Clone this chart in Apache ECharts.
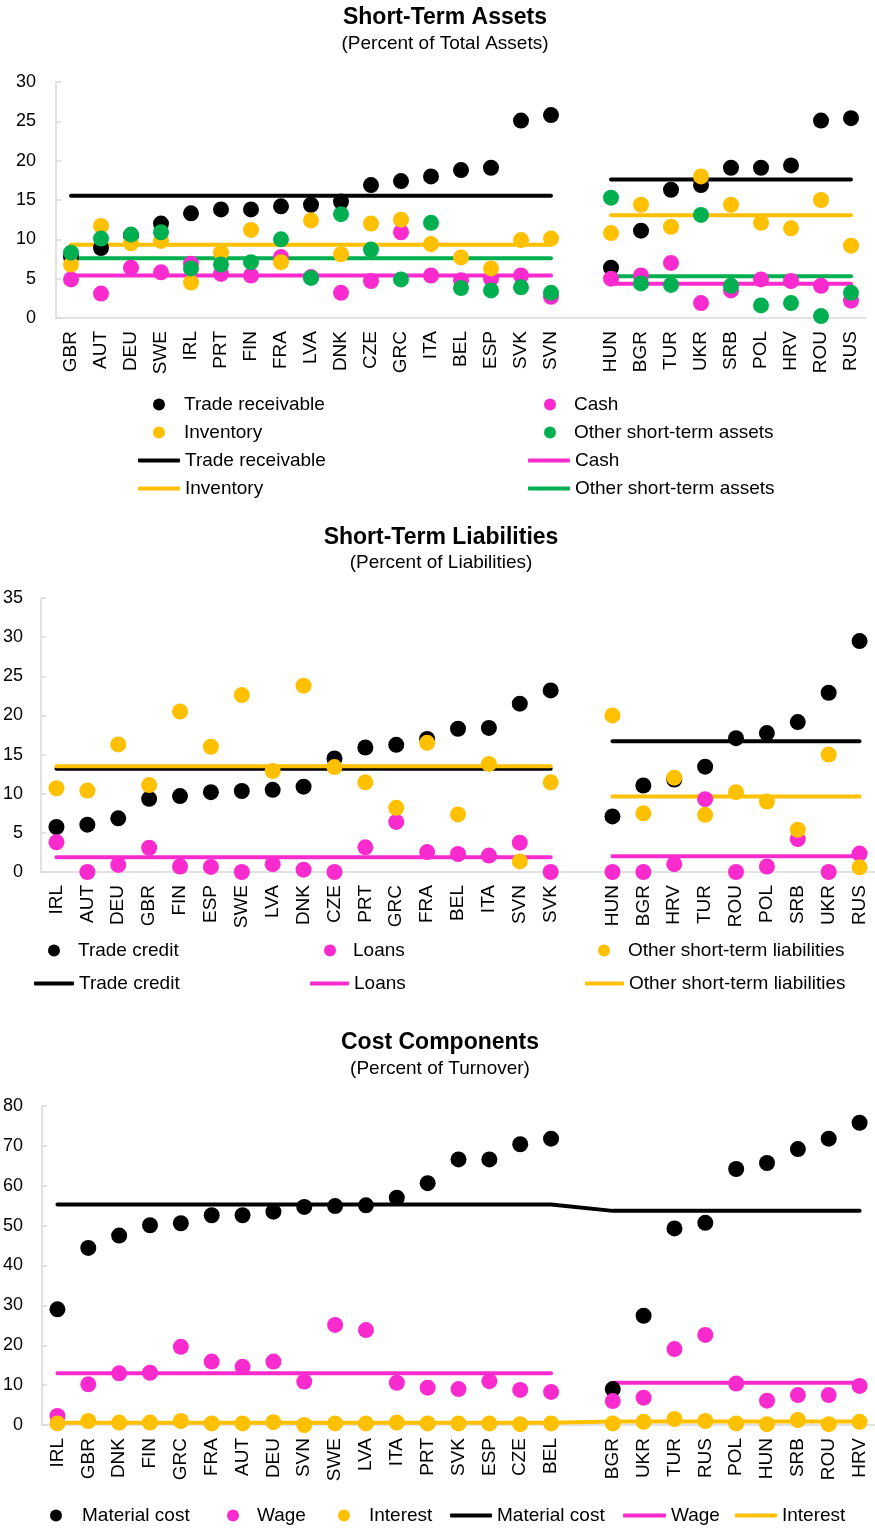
<!DOCTYPE html>
<html>
<head>
<meta charset="utf-8">
<script src="https://cdn.jsdelivr.net/npm/echarts@6/dist/echarts.min.js"></script>
<style>html,body{margin:0;padding:0;background:#fff}#c{width:875px;height:1529px}</style>
</head>
<body>
<div id="c"></div>
<script>
// ---------- Panel 1: Short-Term Assets ----------
const p1CatsA = ['GBR','AUT','DEU','SWE','IRL','PRT','FIN','FRA','LVA','DNK','CZE','GRC','ITA','BEL','ESP','SVK','SVN'];
const p1CatsB = ['HUN','BGR','TUR','UKR','SRB','POL','HRV','ROU','RUS'];
const p1TradeA = [7.8,8.9,10.5,12.0,13.3,13.8,13.8,14.2,14.4,14.8,16.9,17.4,18.0,18.8,19.1,25.1,25.8];
const p1TradeB = [6.4,11.1,16.3,16.9,19.1,19.1,19.4,25.1,25.4];
const p1CashA = [4.9,3.1,6.4,5.8,6.9,5.6,5.4,7.75,5.2,3.2,4.7,10.9,5.4,4.8,5.0,5.4,2.7];
const p1CashB = [5.0,5.4,7.0,1.9,3.5,4.9,4.7,4.1,2.2];
const p1InvA = [6.8,11.7,9.5,9.8,4.5,8.3,11.2,7.1,12.4,8.1,12.0,12.5,9.4,7.7,6.3,9.9,10.1];
const p1InvB = [10.8,14.4,11.6,18.0,14.4,12.1,11.4,15.0,9.2];
const p1OtherA = [8.3,10.1,10.6,10.9,6.3,6.8,7.1,10.0,5.1,13.2,8.7,4.9,12.1,3.8,3.5,3.9,3.2];
const p1OtherB = [15.3,4.4,4.2,13.1,4.1,1.6,1.9,0.25,3.2];
// group averages [first group, second group]
const p1AvgTrade = [15.55,17.6];
const p1AvgCash = [5.4,4.35];
const p1AvgInv = [9.3,13.05];
const p1AvgOther = [7.6,5.3];
const p1Ticks = [0,5,10,15,20,25,30];

// ---------- Panel 2: Short-Term Liabilities ----------
const p2CatsA = ['IRL','AUT','DEU','GBR','FIN','ESP','SWE','LVA','DNK','CZE','PRT','GRC','FRA','BEL','ITA','SVN','SVK'];
const p2CatsB = ['HUN','BGR','HRV','TUR','ROU','POL','SRB','UKR','RUS'];
const p2TradeA = [5.75,6.05,6.85,9.35,9.7,10.2,10.35,10.5,10.9,14.5,15.9,16.25,17.0,18.3,18.4,21.5,23.2];
const p2TradeB = [7.1,11.05,11.8,13.45,17.1,17.75,19.15,22.9,29.5];
const p2LoansA = [3.8,0,0.9,3.1,0.7,0.65,0,1.0,0.3,0,3.15,6.4,2.55,2.3,2.1,3.75,0];
const p2LoansB = [0,0,1.0,9.3,0,0.7,4.2,0,2.35];
const p2OtherA = [10.7,10.4,16.3,11.1,20.5,16.0,22.6,12.9,23.8,13.4,11.45,8.2,16.5,7.35,13.8,1.35,11.45];
const p2OtherB = [20.0,7.5,12.05,7.3,10.2,9.0,5.4,15.0,0.6];
const p2AvgTrade = [13.2,16.7];
const p2AvgLoans = [1.87,2.0];
const p2AvgOther = [13.5,9.66];
const p2Ticks = [0,5,10,15,20,25,30,35];

// ---------- Panel 3: Cost Components ----------
const p3CatsA = ['IRL','GBR','DNK','FIN','GRC','FRA','AUT','DEU','SVN','SWE','LVA','ITA','PRT','SVK','ESP','CZE','BEL'];
const p3CatsB = ['BGR','UKR','TUR','RUS','POL','HUN','SRB','ROU','HRV'];
const p3MatA = [29.0,44.4,47.5,50.1,50.6,52.6,52.6,53.5,54.7,54.9,55.1,57.0,60.65,66.6,66.6,70.4,71.8];
const p3MatB = [9.0,27.4,49.3,50.7,64.2,65.7,69.2,71.8,75.8];
const p3WageA = [2.25,10.2,12.95,13.1,19.6,15.9,14.6,15.9,10.9,25.1,23.8,10.6,9.35,9.0,11.0,8.8,8.3];
const p3WageB = [6.0,6.85,19.05,22.6,10.4,6.1,7.5,7.5,9.8];
const p3IntA = [0.4,1.0,0.6,0.6,1.0,0.4,0.4,0.7,0.0,0.4,0.4,0.6,0.4,0.4,0.4,0.2,0.4];
const p3IntB = [0.4,0.8,1.5,1.0,0.4,0.2,1.25,0.2,0.8];
const p3AvgMat = [55.3,53.7];
const p3AvgWage = [12.95,10.6];
const p3AvgInt = [0.55,0.9];
const p3Ticks = [0,10,20,30,40,50,60,70,80];

// ---------- styling ----------
const FONT = 'Liberation Sans, Arial, sans-serif';
const BLACK = '#000000', PINK = '#FA2BCE', YELLOW = '#FFC000', GREEN = '#00B050';
const AXIS_GRAY = '#d9d9d9';

function cats(a, b) { return a.concat([''], b); }
function scatter(name, color, a, b, gi) {
  return { type: 'scatter', name: name, xAxisIndex: gi, yAxisIndex: gi,
    data: a.concat(['-'], b), symbol: 'circle', symbolSize: 16,
    itemStyle: { color: color, opacity: 1 }, z: 3, silent: true };
}
function avgLine(name, color, avg, nA, nB, gi, connect) {
  const data = [];
  for (let i = 0; i < nA; i++) data.push(avg[0]);
  data.push('-');
  for (let i = 0; i < nB; i++) data.push(avg[1]);
  return { type: 'line', name: name + ' ', xAxisIndex: gi, yAxisIndex: gi, data: data,
    symbol: 'none', showSymbol: false, connectNulls: !!connect,
    lineStyle: { color: color, width: 4, cap: 'round', join: 'round' },
    itemStyle: { color: color }, z: 2, silent: true };
}
function xAxis(gi, data) {
  return { type: 'category', gridIndex: gi, data: data, boundaryGap: true,
    axisTick: { show: false },
    axisLine: { show: true, lineStyle: { color: AXIS_GRAY, width: 1.5 } },
    axisLabel: { rotate: 90, interval: 0, margin: 13, fontSize: 19, fontFamily: FONT, color: '#000' },
    splitLine: { show: false } };
}
function yAxis(gi, ticks, margin) {
  return { type: 'value', gridIndex: gi, min: ticks[0], max: ticks[ticks.length - 1],
    interval: ticks[1] - ticks[0],
    axisLine: { show: true, lineStyle: { color: AXIS_GRAY, width: 1.5 } },
    axisTick: { show: true, inside: true, length: 5, lineStyle: { color: AXIS_GRAY, width: 1.5 } },
    axisLabel: { margin: margin, fontSize: 18, fontFamily: FONT, color: '#000' },
    splitLine: { show: false } };
}
// dot legend entry: dotX = centre of the dot, textX = left of the label
function legendDot(name, dotX, textX, centerY) {
  return { data: [{ name: name, icon: 'circle' }],
    left: dotX - 6, top: centerY - 10, padding: 0, itemWidth: 12, itemHeight: 12,
    selectedMode: false, formatter: function (n) { return n.trim(); },
    textStyle: { fontSize: 19, fontFamily: FONT, color: '#000', padding: [0, 0, 0, textX - (dotX + 6) - 5] } };
}
// line legend entry: lineX = left of the line sample, w = its length
function legendLine(name, lineX, w, centerY) {
  return { data: [{ name: name, icon: 'roundRect' }],
    left: lineX, top: centerY - 10, padding: 0, itemWidth: w, itemHeight: 4,
    selectedMode: false, formatter: function (n) { return n.trim(); },
    textStyle: { fontSize: 19, fontFamily: FONT, color: '#000' } };
}
function titleText(text, x, y, size, bold) {
  return { type: 'text', x: x, y: y, silent: true,
    style: { text: text, font: (bold ? 'bold ' : '') + size + 'px ' + FONT, fill: '#000',
      align: 'center', verticalAlign: 'middle', textAlign: 'center', textVerticalAlign: 'middle' } };
}

const nA1 = p1CatsA.length, nB1 = p1CatsB.length;
const nA2 = p2CatsA.length, nB2 = p2CatsB.length;
const nA3 = p3CatsA.length, nB3 = p3CatsB.length;

const series = [
  avgLine('Trade receivable', BLACK, p1AvgTrade, nA1, nB1, 0),
  avgLine('Cash', PINK, p1AvgCash, nA1, nB1, 0),
  avgLine('Inventory', YELLOW, p1AvgInv, nA1, nB1, 0),
  avgLine('Other short-term assets', GREEN, p1AvgOther, nA1, nB1, 0),
  scatter('Trade receivable', BLACK, p1TradeA, p1TradeB, 0),
  scatter('Cash', PINK, p1CashA, p1CashB, 0),
  scatter('Inventory', YELLOW, p1InvA, p1InvB, 0),
  scatter('Other short-term assets', GREEN, p1OtherA, p1OtherB, 0),

  avgLine('Trade credit', BLACK, p2AvgTrade, nA2, nB2, 1),
  avgLine('Loans', PINK, p2AvgLoans, nA2, nB2, 1),
  avgLine('Other short-term liabilities', YELLOW, p2AvgOther, nA2, nB2, 1),
  scatter('Trade credit', BLACK, p2TradeA, p2TradeB, 1),
  scatter('Loans', PINK, p2LoansA, p2LoansB, 1),
  scatter('Other short-term liabilities', YELLOW, p2OtherA, p2OtherB, 1),

  avgLine('Material cost', BLACK, p3AvgMat, nA3, nB3, 2, true),
  avgLine('Wage', PINK, p3AvgWage, nA3, nB3, 2, false),
  avgLine('Interest', YELLOW, p3AvgInt, nA3, nB3, 2, true),
  scatter('Material cost', BLACK, p3MatA, p3MatB, 2),
  scatter('Wage', PINK, p3WageA, p3WageB, 2),
  scatter('Interest', YELLOW, p3IntA, p3IntB, 2)
];

const legends = [
  legendDot('Trade receivable', 159, 184, 405),
  legendDot('Inventory', 159, 184, 433),
  legendLine('Trade receivable ', 138, 42, 461),
  legendLine('Inventory ', 138, 42, 489),
  legendDot('Cash', 550, 574, 405),
  legendDot('Other short-term assets', 550, 574, 433),
  legendLine('Cash ', 528, 42, 461),
  legendLine('Other short-term assets ', 528, 42, 489),

  legendDot('Trade credit', 54, 78, 951),
  legendLine('Trade credit ', 34, 40, 984),
  legendDot('Loans', 330, 353, 951),
  legendLine('Loans ', 310, 39, 984),
  legendDot('Other short-term liabilities', 604, 628, 951),
  legendLine('Other short-term liabilities ', 585, 39, 984),

  legendDot('Material cost', 56, 82, 1516),
  legendDot('Wage', 233, 257, 1516),
  legendDot('Interest', 344, 369, 1516),
  legendLine('Material cost ', 450, 42, 1516),
  legendLine('Wage ', 623, 43, 1516),
  legendLine('Interest ', 735, 42, 1516)
];

const option = {
  animation: false,
  backgroundColor: '#ffffff',
  textStyle: { fontFamily: FONT },
  grid: [
    { left: 56, top: 82, width: 810, height: 236 },
    { left: 33, top: 598, width: 848, height: 274 },
    { left: 36, top: 1106, width: 846, height: 319 }
  ],
  xAxis: [ xAxis(0, cats(p1CatsA, p1CatsB)), xAxis(1, cats(p2CatsA, p2CatsB)), xAxis(2, cats(p3CatsA, p3CatsB)) ],
  yAxis: [ yAxis(0, p1Ticks, 20), yAxis(1, p2Ticks, 18), yAxis(2, p3Ticks, 19) ],
  legend: legends,
  graphic: [
    titleText('Short-Term Assets', 445, 18, 23, true),
    titleText('(Percent of Total Assets)', 445, 44, 19, false),
    titleText('Short-Term Liabilities', 441, 538, 23, true),
    titleText('(Percent of Liabilities)', 441, 563, 19, false),
    titleText('Cost Components', 440, 1043, 23, true),
    titleText('(Percent of Turnover)', 440, 1069, 19, false)
  ],
  series: series
};

const chart = echarts.init(document.getElementById('c'), null, { renderer: 'canvas' });
chart.setOption(option);
</script>
</body>
</html>
